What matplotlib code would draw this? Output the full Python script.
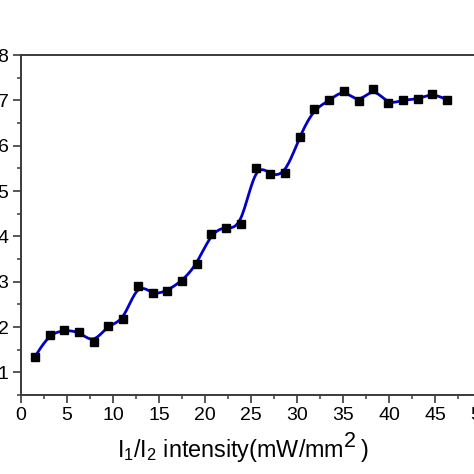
import numpy as np
import matplotlib
matplotlib.use("Agg")
import matplotlib.pyplot as plt
from matplotlib.ticker import MultipleLocator

plt.rcParams['font.family'] = ['Liberation Sans', 'DejaVu Sans']
plt.rcParams['mathtext.fontset'] = 'custom'
plt.rcParams['mathtext.rm'] = 'Liberation Sans'
plt.rcParams['mathtext.it'] = 'Liberation Sans'

# data
intensity = [1.5, 3.1, 4.7, 6.3, 7.9, 9.5, 11.1, 12.7, 14.3, 15.9,
             17.5, 19.1, 20.7, 22.3, 23.9, 25.5, 27.1, 28.7, 30.3, 31.9,
             33.5, 35.1, 36.7, 38.3, 39.9, 41.5, 43.1, 44.7, 46.3]
signal = [1.34, 1.82, 1.93, 1.88, 1.68, 2.02, 2.18, 2.91, 2.74, 2.80,
          3.02, 3.40, 4.05, 4.19, 4.28, 5.50, 5.38, 5.40, 6.20, 6.80,
          7.00, 7.21, 6.98, 7.24, 6.94, 7.00, 7.03, 7.14, 7.01]


def natural_spline(x, y, xs):
    # plain natural cubic spline, numpy only
    x = np.asarray(x, float); y = np.asarray(y, float)
    n = len(x)
    h = np.diff(x)
    A = np.zeros((n, n)); b = np.zeros(n)
    A[0, 0] = A[-1, -1] = 1.0
    for i in range(1, n-1):
        A[i, i-1] = h[i-1]; A[i, i] = 2*(h[i-1]+h[i]); A[i, i+1] = h[i]
        b[i] = 3*((y[i+1]-y[i])/h[i] - (y[i]-y[i-1])/h[i-1])
    c = np.linalg.solve(A, b)
    bb = (y[1:]-y[:-1])/h - h*(2*c[:-1]+c[1:])/3
    d = (c[1:]-c[:-1])/(3*h)
    idx = np.clip(np.searchsorted(x, xs)-1, 0, n-2)
    t = xs - x[idx]
    return y[idx] + bb[idx]*t + c[idx]*t**2 + d[idx]*t**3


# light smoothing, like the instrument software's spline line
y = np.array(signal)
ys = y.copy()
ys[1:-1] = (y[:-2] + 7*y[1:-1] + y[2:]) / 9
xf = np.linspace(intensity[0], intensity[-1], 600)
yf = natural_spline(intensity, ys, xf)

fig = plt.figure(figsize=(4.74, 4.74), dpi=100)
ax = fig.add_axes([21/474, 79/474, 460/474, 340/474])
ax.plot(xf, yf, color='#0000c8', lw=2.0, zorder=2)
ax.plot(intensity, signal, 's', color='black', ms=5.5, zorder=3)

ax.set_xlim(0, 50)
ax.set_ylim(0.5, 8)
ax.xaxis.set_major_locator(MultipleLocator(5))
ax.xaxis.set_minor_locator(MultipleLocator(2.5))
ax.yaxis.set_major_locator(MultipleLocator(1))
ax.yaxis.set_minor_locator(MultipleLocator(0.5))
for s in ax.spines.values():
    s.set_color('#3a3a3a'); s.set_linewidth(1.4)
ax.tick_params(which='major', direction='out', length=5.5, width=1.2,
               color='#3a3a3a', labelsize=14, pad=3.5)
ax.tick_params(which='minor', direction='out', length=3, width=1.1, color='#3a3a3a')
ax.tick_params(top=False, right=False, which='both')

# x label in pieces so the superscript 2 stays full size
fig.text(344/474, 17/474, r'I$_1$/I$_2$ intensity(mW/mm', fontsize=16.8,
         ha='right', va='baseline')
fig.text(344/474, 27/474, '2', fontsize=15.5, ha='left', va='baseline')
fig.text(361/474, 17/474, ')', fontsize=16.8, ha='left', va='baseline')

fig.savefig('out.png', dpi=100)
